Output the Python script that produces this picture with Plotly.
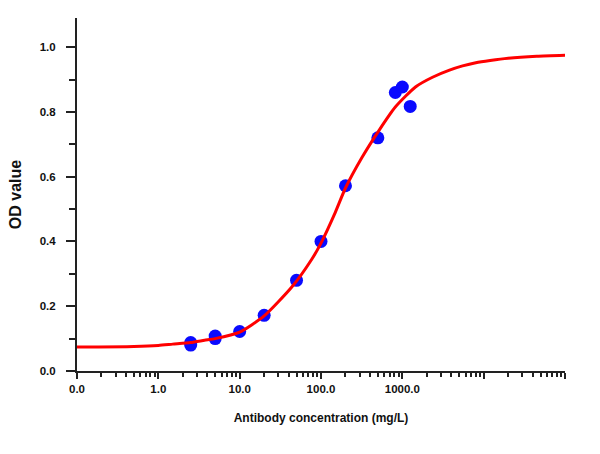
import plotly.graph_objects as go

# Measured data points (concentration mg/L, OD)
conc = [2.5, 2.5, 5, 5, 10, 20, 50, 100, 200, 500, 820, 1000, 1250]
od = [0.080, 0.088, 0.100, 0.108, 0.122, 0.172, 0.280, 0.400, 0.572, 0.720, 0.860, 0.877, 0.817]

# Fitted curve
curve_x = [0.1, 0.5, 1, 1.5, 2.5, 3.7, 5, 10, 20, 44, 77, 100, 150, 200, 320, 520,
           820, 1450, 2350, 3800, 5500, 8000, 12000, 20000, 45000, 100000]
curve_y = [0.074, 0.076, 0.079, 0.083, 0.088, 0.095, 0.100, 0.120, 0.170, 0.260, 0.345,
           0.395, 0.490, 0.565, 0.660, 0.744, 0.815, 0.877, 0.907, 0.929, 0.942, 0.952,
           0.959, 0.966, 0.972, 0.975]

# Axis ticks
x_tickvals = [0.1, 1, 10, 100, 1000, 10000, 100000]
x_ticktext = ["0.0", "1.0", "10.0", "100.0", "1000.0", "", ""]
x_minor = [m * 10 ** e for e in range(-1, 5) for m in range(2, 10)]

font_family = "Liberation Sans, Arial, sans-serif"

fig = go.Figure()
fig.add_trace(go.Scatter(
    x=conc, y=od, mode="markers",
    marker=dict(color="#0a0aff", size=13, line=dict(width=0)),
    showlegend=False, hoverinfo="skip"))
fig.add_trace(go.Scatter(
    x=curve_x, y=curve_y, mode="lines",
    line=dict(color="#ff0000", width=3, shape="spline", smoothing=0.6),
    showlegend=False))

fig.update_layout(
    width=600, height=454,
    margin=dict(l=77, r=35, t=18, b=83),
    plot_bgcolor="white", paper_bgcolor="white",
    font=dict(family=font_family, color="#111111"),
)

fig.update_xaxes(
    type="log", range=[-1, 5], automargin=False,
    tickvals=x_tickvals, ticktext=x_ticktext,
    ticks="outside", ticklen=6, tickwidth=1.5, tickcolor="#222222",
    minor=dict(tickvals=x_minor, ticks="outside", ticklen=4, tickwidth=1.5, tickcolor="#222222"),
    showline=True, linecolor="#222222", linewidth=2,
    showgrid=False, zeroline=False,
    tickfont=dict(size=11.5, weight="bold", family=font_family),
    title=dict(text="Antibody concentration (mg/L)",
               font=dict(size=12, weight="bold", family=font_family), standoff=20),
)

fig.update_yaxes(
    range=[0, 1.09], automargin=False,
    tickvals=[0, 0.2, 0.4, 0.6, 0.8, 1.0],
    tickformat=".1f",
    ticks="outside", ticklen=9, tickwidth=1.5, tickcolor="#222222",
    minor=dict(tickvals=[0.1, 0.3, 0.5, 0.7, 0.9], ticks="outside", ticklen=6,
               tickwidth=1.5, tickcolor="#222222"),
    showline=True, linecolor="#222222", linewidth=2,
    showgrid=False, zeroline=False,
    ticklabelstandoff=8,
    tickfont=dict(size=11.5, weight="bold", family=font_family),
    title=dict(text="OD value", font=dict(size=16, weight="bold", family=font_family),
               standoff=14),
)

fig.write_html("out.html", config={"displayModeBar": False},
               post_script="document.body.style.margin='0';")
